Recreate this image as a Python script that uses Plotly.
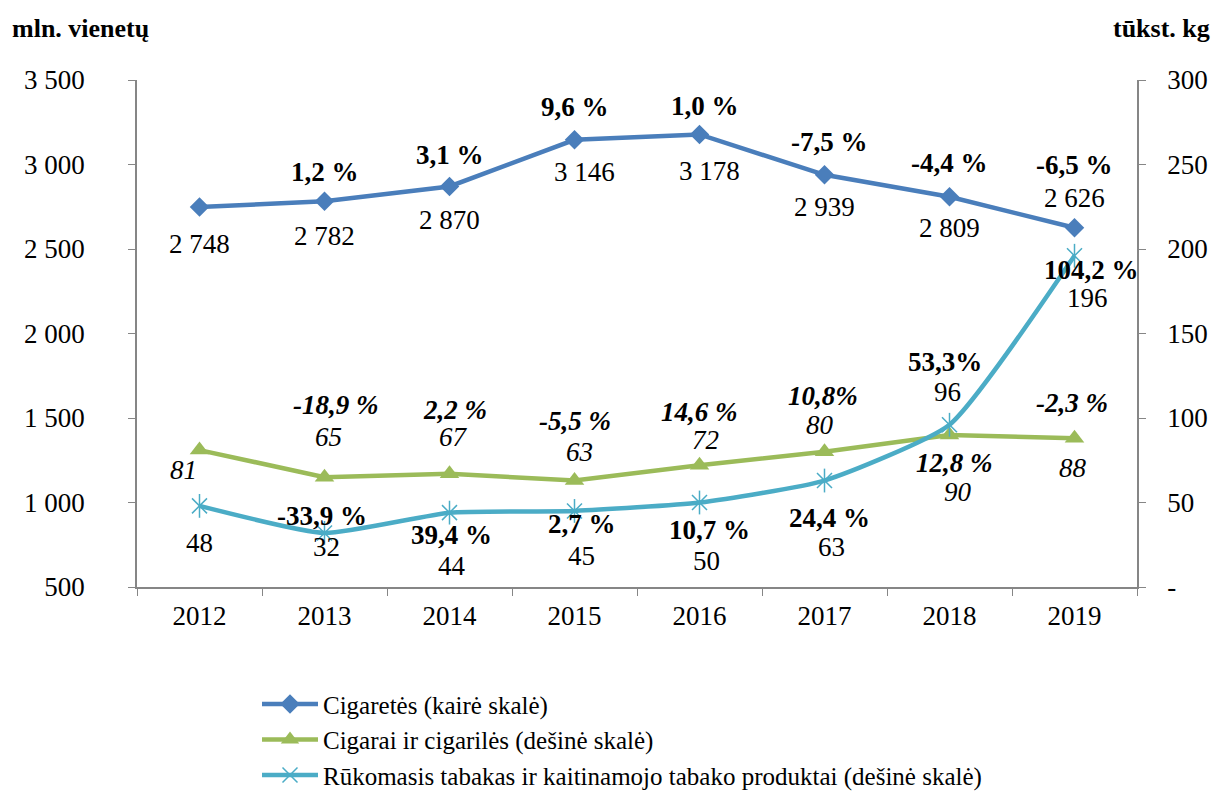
import plotly.graph_objects as go

# Data
years = ['2012', '2013', '2014', '2015', '2016', '2017', '2018', '2019']

cigaretes = [2748, 2782, 2870, 3146, 3178, 2939, 2809, 2626]
cigaretes_pct = ['', '1,2 %', '3,1 %', '9,6 %', '1,0 %', '-7,5 %', '-4,4 %', '-6,5 %']

cigarai = [81, 65, 67, 63, 72, 80, 90, 88]
cigarai_pct = ['', '-18,9 %', '2,2 %', '-5,5 %', '14,6 %', '10,8%', '12,8 %', '-2,3 %']

tabakas = [48, 32, 44, 45, 50, 63, 96, 196]
tabakas_pct = ['', '-33,9 %', '39,4 %', '2,7 %', '10,7 %', '24,4 %', '53,3%', '104,2 %']

left_ticks = [500, 1000, 1500, 2000, 2500, 3000, 3500]
left_ticktext = ['500', '1 000', '1 500', '2 000', '2 500', '3 000', '3 500']
right_ticks = [0, 50, 100, 150, 200, 250, 300]
right_ticktext = ['-', '50', '100', '150', '200', '250', '300']

BLUE = '#4A7EBB'
GREEN = '#9BBB59'
TEAL = '#4BACC6'
FONT = 'Liberation Serif'
FS = 27

# label offsets in pixels (dx, dy), dy positive = up
cig_val_off = [(0, -37), (0, -35), (0, -34), (10, -32), (10, -37), (0, -32), (0, -31), (0, 30)]
cig_pct_off = [(0, 0), (0, 29), (0, 31), (0, 33), (5, 28), (5, 33), (0, 34), (0, 63)]
cgr_val_off = [(-16, -20), (4, 40), (4, 37), (5, 29), (6, 25), (-5, 27), (8, -57), (-2, -30)]
cgr_pct_off = [(0, 0), (11, 72), (5, 64), (0, 60), (0, 53), (-2, 56), (5, -28), (-3, 35)]
tab_val_off = [(0, -37), (2, -14), (2, -53), (7, -45), (7, -58), (7, -66), (-2, 33), (13, -42)]
tab_pct_off = [(0, 0), (-3, 17), (2, -22), (7, -13), (10, -27), (5, -37), (-5, 63), (17, -14)]

fig = go.Figure()

fig.add_trace(go.Scatter(
    x=years, y=cigaretes, name='Cigaretės (kairė skalė)',
    mode='lines+markers',
    line=dict(color=BLUE, width=4.5),
    marker=dict(symbol='diamond', size=15, color=BLUE),
    yaxis='y'
))
fig.add_trace(go.Scatter(
    x=years, y=cigarai, name='Cigarai ir cigarilės (dešinė skalė)',
    mode='lines+markers',
    line=dict(color=GREEN, width=4.5),
    marker=dict(symbol='triangle-up', size=17, color=GREEN),
    yaxis='y2'
))
fig.add_trace(go.Scatter(
    x=years, y=tabakas, name='Rūkomasis tabakas ir kaitinamojo tabako produktai (dešinė skalė)',
    mode='lines+markers', legendgroup='tab',
    line=dict(color=TEAL, width=4.5, shape='spline', smoothing=0.5),
    marker=dict(symbol='x-thin-open', size=15, color=TEAL, line=dict(color=TEAL, width=1.5)),
    yaxis='y2'
))
# vertical stroke of the 6-armed asterisk marker
fig.add_trace(go.Scatter(
    x=years, y=tabakas, mode='markers', legendgroup='tab', showlegend=False,
    marker=dict(symbol='line-ns-open', size=17, color=TEAL, line=dict(color=TEAL, width=1.5)),
    yaxis='y2', hoverinfo='skip'
))


def add_labels(values, texts, offsets, yref, bold=False, italic=False):
    # category axis: use the index so '2012' is not read as a position
    for i, (v, t, (dx, dy)) in enumerate(zip(values, texts, offsets)):
        if not t:
            continue
        s = t
        if bold:
            s = '<b>' + s + '</b>'
        if italic:
            s = '<i>' + s + '</i>'
        fig.add_annotation(x=i, y=v, xref='x', yref=yref, text=s, showarrow=False,
                           xshift=dx, yshift=dy, font=dict(family=FONT, size=FS, color='black'))


fmt_thousands = lambda v: f'{v:,}'.replace(',', ' ')
add_labels(cigaretes, [fmt_thousands(v) for v in cigaretes], cig_val_off, 'y')
add_labels(cigaretes, cigaretes_pct, cig_pct_off, 'y', bold=True)
add_labels(cigarai, [str(v) for v in cigarai], cgr_val_off, 'y2', italic=True)
add_labels(cigarai, cigarai_pct, cgr_pct_off, 'y2', bold=True, italic=True)
add_labels(tabakas, [str(v) for v in tabakas], tab_val_off, 'y2')
add_labels(tabakas, tabakas_pct, tab_pct_off, 'y2', bold=True)

# Axis unit titles
fig.add_annotation(text='<b>mln. vienetų</b>', xref='paper', yref='paper', x=-0.127, y=1.0,
                   xanchor='left', yanchor='bottom', yshift=35, showarrow=False,
                   font=dict(family=FONT, size=FS - 1, color='black'))
fig.add_annotation(text='<b>tūkst. kg</b>', xref='paper', yref='paper', x=1.075, y=1.0,
                   xanchor='right', yanchor='bottom', yshift=35, showarrow=False,
                   font=dict(family=FONT, size=FS - 1, color='black'))

axis_col = '#868686'
fig.update_layout(
    width=1211, height=783,
    margin=dict(l=129, r=82, t=72, b=204, autoexpand=False),
    paper_bgcolor='white', plot_bgcolor='white',
    font=dict(family=FONT, size=FS, color='black'),
    showlegend=True,
    legend=dict(x=0.12, y=-0.186, xanchor='left', yanchor='top',
                font=dict(family=FONT, size=25, color='black'),
                tracegroupgap=0, itemwidth=56, bgcolor='rgba(0,0,0,0)'),
    xaxis=dict(range=[-0.5, 7.5], showline=True, linecolor=axis_col, linewidth=1.5,
               ticks='outside', tickson='boundaries', ticklen=7, tickcolor=axis_col,
               showgrid=False, zeroline=False, ticklabelstandoff=4),
    yaxis=dict(range=[500, 3500], tickvals=left_ticks, ticktext=left_ticktext,
               showline=True, linecolor=axis_col, linewidth=1.5, ticks='outside', ticklen=7,
               tickcolor=axis_col, showgrid=False, zeroline=False, ticklabelstandoff=38),
    yaxis2=dict(range=[0, 300], tickvals=right_ticks, ticktext=right_ticktext, overlaying='y',
                side='right', showline=True, linecolor=axis_col, linewidth=1.5, ticks='outside',
                ticklen=7, tickcolor=axis_col, showgrid=False, zeroline=False, ticklabelstandoff=16),
)

fig.write_html('out.html')
